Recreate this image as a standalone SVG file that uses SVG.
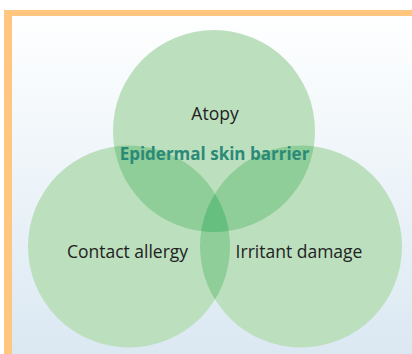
<svg xmlns="http://www.w3.org/2000/svg" width="412" height="354" viewBox="0 0 412 354">
  <style>
    .c1 { fill: #bcdfbe; }
    .c2 { fill: #8fcd99; }
    .c3 { fill: #66bf7f; }
    .lbl { font-family: "Open Sans", "Liberation Sans", sans-serif; font-size: 17.5px; fill: #222222; text-anchor: middle; }
    .title { font-family: "Open Sans", "Liberation Sans", sans-serif; font-size: 17px; font-weight: bold; fill: #2b8a77; text-anchor: middle; }
  </style>
  <defs>
    <linearGradient id="bg" x1="0" y1="0" x2="0" y2="1">
      <stop offset="0" stop-color="#feffff"/>
      <stop offset="1" stop-color="#dbe8f2"/>
    </linearGradient>
    <clipPath id="clipA"><circle cx="214" cy="131" r="101"/></clipPath>
    <clipPath id="clipL"><circle cx="129" cy="246.5" r="101"/></clipPath>
    <clipPath id="clipR"><circle cx="301" cy="246.5" r="101"/></clipPath>
  </defs>

  <rect x="0" y="0" width="412" height="354" fill="#ffffff"/>
  <rect x="4" y="10" width="408" height="344" fill="#ffc680"/>
  <rect x="12" y="16" width="400" height="338" fill="url(#bg)"/>

  <g id="atopy">
    <circle class="c1" cx="214" cy="131" r="101"/>
    <text class="lbl" x="215" y="120">Atopy</text>
  </g>
  <g id="contact-allergy">
    <circle class="c1" cx="129" cy="246.5" r="101"/>
    <text class="lbl" x="127.5" y="258">Contact allergy</text>
  </g>
  <g id="irritant-damage">
    <circle class="c1" cx="301" cy="246.5" r="101"/>
    <text class="lbl" x="299" y="258">Irritant damage</text>
  </g>

  <g id="overlaps">
    <g clip-path="url(#clipA)"><circle class="c2" cx="129" cy="246.5" r="101"/></g>
    <g clip-path="url(#clipA)"><circle class="c2" cx="301" cy="246.5" r="101"/></g>
    <g clip-path="url(#clipL)"><circle class="c2" cx="301" cy="246.5" r="101"/></g>
    <g clip-path="url(#clipL)"><g clip-path="url(#clipR)"><circle class="c3" cx="214" cy="131" r="101"/></g></g>
  </g>

  <g id="epidermal-skin-barrier">
    <text class="title" x="214.5" y="159.5">Epidermal skin barrier</text>
  </g>
</svg>
